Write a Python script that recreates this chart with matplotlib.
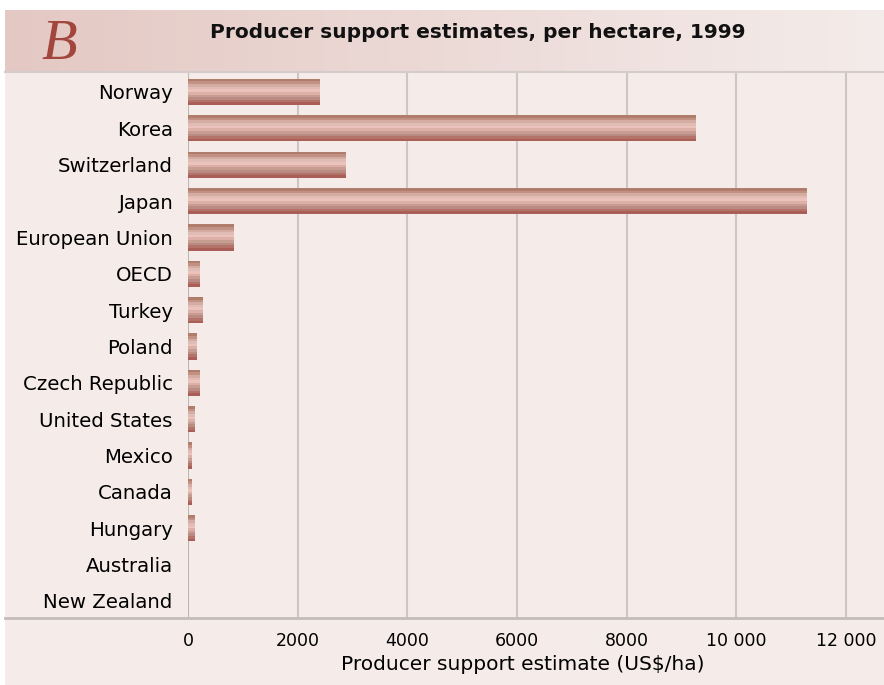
import matplotlib
matplotlib.use("Agg")
import matplotlib.pyplot as plt
import numpy as np
from matplotlib.colors import to_rgb

categories = ["Norway", "Korea", "Switzerland", "Japan", "European Union", "OECD",
              "Turkey", "Poland", "Czech Republic", "United States", "Mexico",
              "Canada", "Hungary", "Australia", "New Zealand"]
values = [2400, 9260, 2880, 11290, 840, 220, 270, 165, 220, 130, 75, 75, 130, 0, 0]
xticks = [0, 2000, 4000, 6000, 8000, 10000, 12000]
xticklabels = ["0", "2000", "4000", "6000", "8000", "10 000", "12 000"]

W, H = 884, 685
fig = plt.figure(figsize=(W/100, H/100), dpi=100, facecolor="white")

BG = "#f5ecea"
# panel background
fig.patches.append(plt.Rectangle((5/W, 0), 1-5/W, (H-10)/H, transform=fig.transFigure,
                                 facecolor=BG, edgecolor="none", zorder=-10))
# header gradient
hax = fig.add_axes([5/W, 1-71/H, 1-5/W, 61/H])
c1 = np.array(to_rgb("#e4c8c3")); c2 = np.array(to_rgb("#f4ecea"))
t = np.linspace(0, 1, 256)[None, :, None]
grad = c1 + (c2 - c1) * t
hax.imshow(grad, aspect="auto", extent=[0, 1, 0, 1])
hax.set_axis_off()
hax.text((59-5)/879, 0.43, "B", fontsize=42, family="Liberation Serif", style="italic",
         color="#a2453d", ha="center", va="center", transform=hax.transAxes)
fig.text(478/W, 1-33/H, "Producer support estimates, per hectare, 1999", fontsize=14.5,
         fontweight="bold", ha="center", va="center", color="#111111")

# horizontal border lines
fig.add_artist(plt.Line2D([5/W, 1], [1-72/H, 1-72/H], transform=fig.transFigure,
                          color="#d4cccb", lw=1.5))
fig.add_artist(plt.Line2D([5/W, 1], [1-618/H, 1-618/H], transform=fig.transFigure,
                          color="#c4bcbb", lw=2))

ax = fig.add_axes([188/W, 1-618/H, 1-188/W, (618-72)/H])
ax.set_facecolor("none")
for s in ax.spines.values():
    s.set_visible(False)
ax.set_xlim(0, (W-188)/0.05483)
n = len(categories)
ax.set_ylim(n - 1 + 0.47, -0.55)
for xt in xticks:
    ax.axvline(xt, color="#bfb7b6" if xt == 0 else "#cdc6c5", lw=1.5, zorder=1)

stripes = ["#b07c6c", "#c19284", "#d4aca2", "#dfbdb5", "#ecc2bd", "#dcb0a7",
           "#c79d92", "#b98b82", "#b47369", "#a95f58"]
bh = 0.72
sh = bh / len(stripes)
ypos = np.arange(n)
for i, c in enumerate(stripes):
    ax.barh(ypos - bh/2 + sh*(i+0.5), values, height=sh*1.02, left=0, color=c,
            edgecolor="none", zorder=2)

ax.set_yticks(ypos)
ax.set_yticklabels(categories, fontsize=14.2)
ax.set_xticks(xticks)
ax.set_xticklabels(xticklabels, fontsize=12.5)
ax.tick_params(length=0)
ax.tick_params(axis="y", pad=11)
ax.tick_params(axis="x", pad=10)
ax.set_xlabel("Producer support estimate (US$/ha)", fontsize=14.5)
ax.xaxis.set_label_coords((523-188)/(W-188), -(665-618)/(618-72), transform=ax.transAxes)
ax.xaxis.label.set_va("center")

fig.savefig("out.png", dpi=100, facecolor="white")
